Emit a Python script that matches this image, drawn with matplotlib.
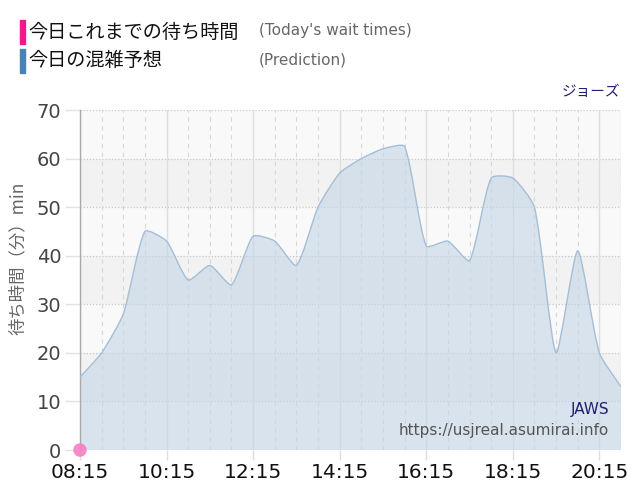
import numpy as np
import matplotlib
matplotlib.use('Agg')
import matplotlib.pyplot as plt
from matplotlib.path import Path
from matplotlib.patches import PathPatch, Rectangle

plt.rcParams['font.family'] = ['DejaVu Sans', 'Noto Sans CJK JP']

# prediction, every 30 minutes from 08:15 to 20:45
pred_times = ['08:15', '08:45', '09:15', '09:45', '10:15', '10:45', '11:15', '11:45',
              '12:15', '12:45', '13:15', '13:45', '14:15', '14:45', '15:15', '15:45',
              '16:15', '16:45', '17:15', '17:45', '18:15', '18:45', '19:15', '19:45',
              '20:15', '20:45']
pred_wait = [15, 20, 28, 45, 43, 35, 38, 34, 44, 43, 38, 50, 57, 60, 62, 62.5,
             42, 43, 39, 56, 56, 50, 20, 41, 20, 13]

# today's measured wait times so far
today_times = ['08:15']
today_wait = [0]

tick_labels = ['08:15', '10:15', '12:15', '14:15', '16:15', '18:15', '20:15']


def to_hours(t):
    h, m = t.split(':')
    return int(h) + int(m) / 60


def spline_path(ax, xs, ys, tension=0.2, close_to=None):
    # cardinal-style spline like chart libs do it, computed in pixel space
    pts = ax.transData.transform(np.column_stack([xs, ys]))
    n = len(pts)
    cp_prev = np.zeros_like(pts)
    cp_next = np.zeros_like(pts)
    for i in range(n):
        prev = pts[max(i - 1, 0)]
        cur = pts[i]
        nxt = pts[min(i + 1, n - 1)]
        d01 = np.hypot(*(cur - prev))
        d12 = np.hypot(*(nxt - cur))
        tot = d01 + d12
        fa = tension * d01 / tot if tot else 0
        fb = tension * d12 / tot if tot else 0
        cp_prev[i] = cur - fa * (nxt - prev)
        cp_next[i] = cur + fb * (nxt - prev)
    # keep control points inside the plot area
    y0, y1 = ax.transData.transform([(0, 0), (0, 70)])[:, 1]
    cp_prev[:, 1] = np.clip(cp_prev[:, 1], y0, y1)
    cp_next[:, 1] = np.clip(cp_next[:, 1], y0, y1)
    inv = ax.transData.inverted()
    pts, cp_prev, cp_next = inv.transform(pts), inv.transform(cp_prev), inv.transform(cp_next)
    verts = [tuple(pts[0])]
    codes = [Path.MOVETO]
    for i in range(n - 1):
        verts += [tuple(cp_next[i]), tuple(cp_prev[i + 1]), tuple(pts[i + 1])]
        codes += [Path.CURVE4] * 3
    if close_to is not None:
        verts += [(xs[-1], close_to), (xs[0], close_to), (xs[0], ys[0])]
        codes += [Path.LINETO, Path.LINETO, Path.CLOSEPOLY]
    return Path(verts, codes)


px = [to_hours(t) for t in pred_times]
tx = [to_hours(t) for t in today_times]
ticks = [to_hours(t) for t in tick_labels]

fig = plt.figure(figsize=(6.4, 5.0), dpi=100)
ax = fig.add_axes([80 / 640, 50 / 500, 541 / 640, 340 / 500])

ax.set_xlim(px[0], px[-1])
ax.set_ylim(0, 70)

# alternating bands
for k in range(7):
    ax.axhspan(k * 10, k * 10 + 10, color='#f9f9f9' if k % 2 == 0 else '#f2f2f2',
               lw=0, zorder=0)

# grid
for yv in range(0, 71, 10):
    ax.axhline(yv, color='#c8c8c8', lw=0.9, ls=(0, (1, 1.5)), zorder=1)
for xv in np.arange(px[0], px[-1] + 0.01, 0.5):
    if any(abs(xv - t) < 1e-6 for t in ticks):
        ax.axvline(xv, color='#dedede', lw=1.0, zorder=1)
    else:
        ax.axvline(xv, color='#d8d8d8', lw=0.8, ls=(0, (4, 4)), zorder=1)
ax.axvline(px[-1], color='#c8c8c8', lw=0.9, ls=(0, (1, 1.5)), zorder=1)

# prediction area
ax.add_patch(PathPatch(spline_path(ax, px, pred_wait, close_to=0),
                       facecolor='#c4d5e5', alpha=0.6, edgecolor='none', zorder=2))
ax.add_patch(PathPatch(spline_path(ax, px, pred_wait), facecolor='none',
                       edgecolor='#a5bed7', lw=1.0, zorder=3))

# today's points
ax.scatter(tx, today_wait, s=95, color='#f580c2', edgecolors='none', zorder=5,
           clip_on=False, alpha=0.9)

for s in ['top', 'right', 'bottom']:
    ax.spines[s].set_visible(False)
ax.spines['left'].set_color('#aaaaaa')
ax.spines['left'].set_linewidth(1.0)

ax.set_xticks(ticks)
ax.set_xticklabels(tick_labels)
ax.set_yticks(range(0, 71, 10))
ax.tick_params(axis='x', length=7, color='#dedede', width=1.0, pad=2,
               labelsize=14.5, labelcolor='#111111')
ax.tick_params(axis='y', length=10.5, color='#e2e2e2', width=1.0, pad=3,
               labelsize=14, labelcolor='#444444')

fig.text(18 / 640, 1 - 258 / 500, '待ち時間（分）min', rotation=90, ha='center',
         va='center', fontsize=12.5, color='#666666',
         family=['Noto Sans CJK JP', 'DejaVu Sans'])

ax.text(0.978, 0.118, 'JAWS', transform=ax.transAxes, ha='right', va='center',
        fontsize=11, color='#1f1f6e', zorder=6)
ax.text(0.978, 0.056, 'https://usjreal.asumirai.info', transform=ax.transAxes,
        ha='right', va='center', fontsize=11, color='#555555', zorder=6)

fig.text(620 / 640, 1 - 92 / 500, 'ジョーズ', ha='right', va='center', fontsize=10.5,
         color='#1f1f6e', family=['Noto Sans CJK JP', 'DejaVu Sans'])

# legend
fig.patches.append(Rectangle((20 / 640, 1 - 44 / 500), 5 / 640, 24 / 500,
                             transform=fig.transFigure, color='#f2188c'))
fig.patches.append(Rectangle((20 / 640, 1 - 73 / 500), 5 / 640, 24 / 500,
                             transform=fig.transFigure, color='#4a82b4'))
fig.text(28 / 640, 1 - 32 / 500, '今日これまでの待ち時間', ha='left', va='center',
         fontsize=13.8, color='#111111', family=['Noto Sans CJK JP', 'DejaVu Sans'])
fig.text(28 / 640, 1 - 61 / 500, '今日の混雑予想', ha='left', va='center',
         fontsize=13.8, color='#111111', family=['Noto Sans CJK JP', 'DejaVu Sans'])
fig.text(259 / 640, 1 - 31 / 500, "(Today's wait times)", ha='left', va='center',
         fontsize=11, color='#666666')
fig.text(259 / 640, 1 - 60 / 500, '(Prediction)', ha='left', va='center',
         fontsize=11, color='#666666')

fig.savefig('out.png', dpi=100)
